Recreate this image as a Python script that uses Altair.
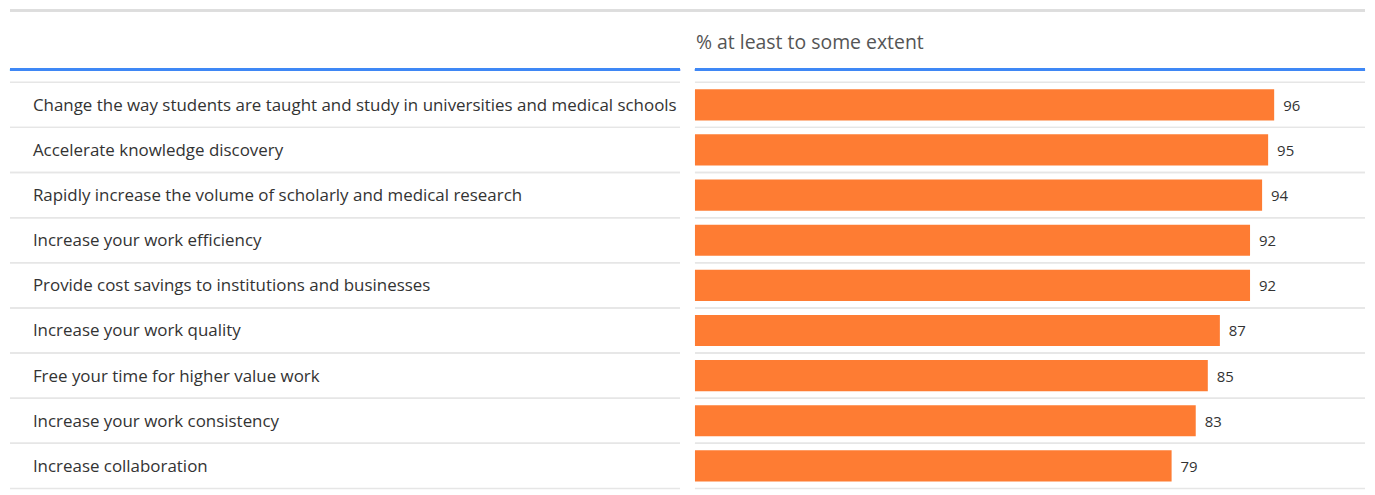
import altair as alt
import pandas as pd

categories = [
    "Change the way students are taught and study in universities and medical schools",
    "Accelerate knowledge discovery",
    "Rapidly increase the volume of scholarly and medical research",
    "Increase your work efficiency",
    "Provide cost savings to institutions and businesses",
    "Increase your work quality",
    "Free your time for higher value work",
    "Increase your work consistency",
    "Increase collaboration",
]
values = [96, 95, 94, 92, 92, 87, 85, 83, 79]
header = "% at least to some extent"

df = pd.DataFrame({"item": categories, "pct": values})

FONT = "Open Sans"
W, H = 1361, 482
LEFT_END = 673
RIGHT_START = 688

yenc = dict(field="item", type="nominal", sort=categories,
            scale=alt.Scale(domain=categories, range=[73.5, 481.5], paddingInner=0, paddingOuter=0),
            axis=None)
xscale = alt.Scale(domain=[0, 100], range=[RIGHT_START, RIGHT_START + 606])

base = alt.Chart(df)

bars = base.mark_bar(color="#FE7C33", height=alt.RelativeBandSize(0.69)).encode(
    y=alt.Y(**yenc),
    x=alt.X("pct:Q", scale=xscale, axis=None),
    x2=alt.datum(0),
)

vals = base.mark_text(align="left", baseline="middle", dx=9, dy=1, fontSize=15, font=FONT, color="#333333").encode(
    y=alt.Y(**yenc),
    x=alt.X("pct:Q", scale=xscale, axis=None),
    text="pct:Q",
)

labels = base.mark_text(align="left", baseline="middle", dy=1, fontSize=17, font=FONT, color="#333333").encode(
    y=alt.Y(**yenc),
    x=alt.value(23),
    text="item:N",
)

def sep(bp, x0, x1):
    return base.mark_rule(color="#e6e6e6", strokeWidth=1.5).encode(
        y=alt.Y(bandPosition=bp, **yenc),
        x=alt.value(x0),
        x2=alt.value(x1),
    )

seps = [sep(0, 0, LEFT_END), sep(1, 0, LEFT_END), sep(0, RIGHT_START, W), sep(1, RIGHT_START, W)]

top_line = base.mark_rule(color="#dddddd", strokeWidth=2).encode(
    x=alt.value(0), x2=alt.value(W), y=alt.value(1.5)
)
blue_l = base.mark_rule(color="#3f87f5", strokeWidth=2.5).encode(
    x=alt.value(0), x2=alt.value(LEFT_END), y=alt.value(61)
)
blue_r = base.mark_rule(color="#3f87f5", strokeWidth=2.5).encode(
    x=alt.value(RIGHT_START), x2=alt.value(W), y=alt.value(61)
)
head = alt.Chart(pd.DataFrame({"t": [header]})).mark_text(
    align="left", baseline="middle", fontSize=19.5, font=FONT, color="#555555"
).encode(x=alt.value(RIGHT_START + 1), y=alt.value(34), text="t:N")

chart = alt.layer(top_line, *seps, blue_l, blue_r, head, bars, vals, labels).properties(
    width=W, height=H, padding=0
).configure_view(stroke=None)

chart.save("out.html", embed_options={"renderer": "svg", "actions": False})
